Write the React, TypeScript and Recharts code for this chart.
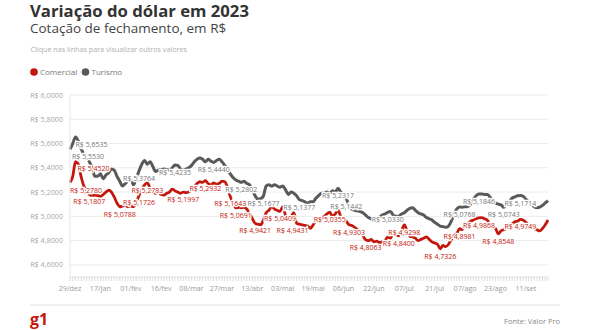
import React from "react";
import { LineChart, Line, XAxis, YAxis, CartesianGrid } from "recharts";

// rótulos do eixo x (um a cada 11 pregões)
const tickLabels = [
  "29/dez", "17/jan", "01/fev", "16/fev", "08/mar", "27/mar", "13/abr", "03/mai",
  "19/mai", "06/jun", "22/jun", "07/jul", "21/jul", "07/ago", "23/ago", "11/set",
];
const TICK_STEP = 11;

const yTicks = [4.6, 4.8, 5.0, 5.2, 5.4, 5.6, 5.8, 6.0];

// dólar comercial
const comercial = [
  5.278, 5.33, 5.452, 5.43, 5.33, 5.25, 5.22, 5.1807, 5.17, 5.175,
  5.17, 5.165, 5.18, 5.2, 5.215, 5.2, 5.16, 5.11, 5.0788, 5.085,
  5.09, 5.08, 5.085, 5.08, 5.12, 5.1726, 5.22, 5.26, 5.2783, 5.23,
  5.2, 5.19, 5.195, 5.18, 5.175, 5.19, 5.2, 5.225, 5.21, 5.2,
  5.19, 5.1997, 5.195, 5.2, 5.22, 5.245, 5.27, 5.285, 5.28, 5.2932,
  5.27, 5.26, 5.275, 5.265, 5.27, 5.29, 5.285, 5.24, 5.1643, 5.11,
  5.0691, 5.075, 5.07, 5.075, 5.06, 5.02, 4.98, 4.9421, 4.935, 4.93,
  4.97, 5.03, 5.05, 5.08, 5.06, 5.05, 5.0409, 5.08, 5.01, 4.99,
  5.0, 5.03, 4.9431, 4.935, 4.93, 4.925, 4.92, 4.9, 4.93, 4.96,
  4.97, 4.98, 5.0, 5.02, 5.0355, 5.0, 5.02, 5.05, 5.0, 4.98,
  4.96, 4.9303, 4.925, 4.91, 4.89, 4.87, 4.84, 4.8063, 4.8, 4.81,
  4.79, 4.795, 4.785, 4.79, 4.8, 4.83, 4.82, 4.86, 4.85, 4.84,
  4.88, 4.9298, 4.88, 4.835, 4.83, 4.82, 4.8, 4.81, 4.82, 4.83,
  4.81, 4.79, 4.78, 4.77, 4.7326, 4.76, 4.75, 4.77, 4.81, 4.84,
  4.86, 4.8981, 4.89, 4.92, 4.94, 4.96, 4.97, 4.98, 4.9868, 4.99,
  4.98, 4.97, 4.93, 4.91, 4.9, 4.8548, 4.88, 4.89, 4.9, 4.93,
  4.94, 4.955, 4.96, 4.9749, 4.97, 4.95, 4.93, 4.915, 4.9, 4.89,
  4.88, 4.9, 4.93, 4.97,
];

// dólar turismo
const turismo = [
  5.553, 5.6, 5.6535, 5.62, 5.56, 5.51, 5.48, 5.45, 5.4, 5.33,
  5.33, 5.35, 5.31, 5.34, 5.36, 5.39, 5.38, 5.33, 5.29, 5.25,
  5.27, 5.29, 5.3, 5.26, 5.31, 5.3764, 5.43, 5.46, 5.43, 5.45,
  5.41, 5.37, 5.38, 5.385, 5.39, 5.385, 5.38, 5.4, 5.4235, 5.42,
  5.39, 5.38, 5.39, 5.4, 5.42, 5.45, 5.47, 5.48, 5.47, 5.45,
  5.47, 5.455, 5.444, 5.46, 5.47, 5.45, 5.42, 5.39, 5.35, 5.32,
  5.3, 5.29, 5.2802, 5.29, 5.27, 5.26, 5.22, 5.17, 5.14, 5.145,
  5.1677, 5.25, 5.26, 5.25, 5.26, 5.25, 5.24, 5.25, 5.22, 5.18,
  5.2, 5.19, 5.17, 5.1377, 5.13, 5.12, 5.11, 5.12, 5.12, 5.15,
  5.17, 5.19, 5.19, 5.2, 5.19, 5.21, 5.2, 5.2317, 5.2, 5.17,
  5.1442, 5.09, 5.06, 5.05, 5.045, 5.04, 5.03, 5.01, 4.99, 4.98,
  4.97, 4.975, 4.99, 5.01, 5.02, 5.033, 5.04, 5.01, 5.0, 5.0,
  5.02, 5.03, 5.05, 5.065, 5.07, 5.05, 5.03, 5.02, 5.01, 4.99,
  4.98, 4.97, 4.95, 4.935, 4.92, 4.915, 4.91, 4.92, 4.96, 5.02,
  5.06, 5.0768, 5.075, 5.08, 5.08, 5.1, 5.14, 5.17, 5.1846, 5.185,
  5.18, 5.18, 5.16, 5.13, 5.11, 5.1, 5.095, 5.0743, 5.1, 5.12,
  5.15, 5.16, 5.17, 5.1714, 5.165, 5.14, 5.12, 5.1, 5.08, 5.07,
  5.075, 5.09, 5.11, 5.13,
];

// pontos com rótulo de valor
const comercialLabels = [0, 2, 7, 18, 25, 28, 41, 49, 58, 60, 67, 76, 82, 94, 101, 107, 119, 121, 134, 141, 148, 155, 163];
const turismoLabels = [0, 2, 25, 38, 52, 62, 70, 83, 97, 100, 115, 141, 148, 157, 163];

const RED = "#c4170c";
const GRAY = "#595959";
const FONT = '"Open Sans", sans-serif';

const data = comercial.map((v, i) => ({ i, comercial: v, turismo: turismo[i] }));
const allTicks = data.map((d) => d.i);

const brl = (v: number) => "R$ " + v.toFixed(4).replace(".", ",");

// deslocamentos horizontais dos rótulos que encostam na borda esquerda
const comercialShift: Record<number, number> = { 0: 16, 2: 18, 82: -4 };
const turismoShift: Record<number, number> = { 0: 18, 2: 16 };

const XTick = (props: any) => {
  const { x, y, payload } = props;
  const v = payload.value;
  if (v % TICK_STEP !== 0) return <g />;
  const label = tickLabels[v / TICK_STEP];
  if (!label) return <g />;
  return (
    <text x={x} y={y + 8} textAnchor="middle" fontSize={7.2} fill="#9a9a9a" fontFamily={FONT}>
      {label}
    </text>
  );
};

const makeLabelDot =
  (key: "comercial" | "turismo", idxs: number[], color: string, shifts: Record<number, number>) =>
  (props: any) => {
    const { cx, cy, index, payload } = props;
    if (!idxs.includes(index)) return <g key={`${key}-${index}`} />;
    return (
      <text
        key={`${key}-${index}`}
        x={cx + (shifts[index] || 0)}
        y={cy + 10}
        textAnchor="middle"
        fontSize={7}
        fill={color}
        stroke="#fff"
        strokeWidth={2.5}
        paintOrder="stroke"
        fontFamily={FONT}
      >
        {brl(payload[key])}
      </text>
    );
  };

const App: React.FC = () => {
  return (
    <div
      style={{
        position: "absolute",
        left: 0,
        top: 0,
        width: 590,
        height: 330,
        background: "#fff",
        fontFamily: FONT,
      }}
    >
      <svg width={590} height={330} style={{ position: "absolute", left: 0, top: 0 }}>
        <text x={30} y={16.7} fontSize={16.7} fontWeight={700} fill="#333" fontFamily={FONT}>
          Variação do dólar em 2023
        </text>
        <text x={30} y={33} fontSize={13.5} fill="#444" fontFamily={FONT}>
          Cotação de fechamento, em R$
        </text>
        <text x={30.5} y={51.5} fontSize={7.2} fill="#b0b0b0" fontFamily={FONT}>
          Clique nas linhas para visualizar outros valores
        </text>

        {/* legenda */}
        <circle cx={34} cy={72} r={3.8} fill={RED} />
        <text x={40} y={74.8} fontSize={8} fill="#777" fontFamily={FONT}>
          Comercial
        </text>
        <circle cx={85.5} cy={72} r={3.8} fill={GRAY} />
        <text x={91.5} y={74.8} fontSize={8} fill="#777" fontFamily={FONT}>
          Turismo
        </text>

        {/* rodapé */}
        <line x1={30} x2={560} y1={305} y2={305} stroke="#e0e0e0" />
        <text x={30} y={325} fontSize={16} fontWeight={700} fill={RED} fontFamily={FONT}>
          g1
        </text>
        <text x={560} y={324} textAnchor="end" fontSize={7.5} fill="#888" fontFamily={FONT}>
          Fonte: Valor Pro
        </text>
      </svg>

      <div style={{ position: "absolute", left: 0, top: 0 }}>
        <LineChart
          width={590}
          height={330}
          data={data}
          margin={{ top: 95, right: 42, bottom: 0, left: 0 }}
        >
          <CartesianGrid vertical={false} stroke="#ebebeb" />
          <XAxis
            type="number"
            dataKey="i"
            domain={[0, comercial.length - 1]}
            ticks={allTicks}
            interval={0}
            tick={<XTick />}
            tickSize={4}
            tickLine={{ stroke: "#dcdcdc" }}
            axisLine={{ stroke: "#ececec" }}
            height={53}
          />
          <YAxis
            domain={[4.5, 6.0]}
            ticks={yTicks}
            interval={0}
            width={70}
            tickFormatter={brl}
            tick={{ fontSize: 7.2, fill: "#a8a8a8", fontFamily: FONT }}
            tickLine={false}
            tickSize={0}
            tickMargin={7}
            axisLine={{ stroke: "#e6e6e6" }}
          />

          {/* Turismo */}
          <Line
            type="monotone"
            dataKey="turismo"
            stroke={GRAY}
            strokeWidth={3}
            dot={false}
            activeDot={false}
            isAnimationActive={false}
          />

          {/* Comercial */}
          <Line
            type="monotone"
            dataKey="comercial"
            stroke={RED}
            strokeWidth={2.8}
            dot={false}
            activeDot={false}
            isAnimationActive={false}
          />

          {/* rótulos por cima das duas linhas */}
          <Line
            dataKey="turismo"
            stroke="none"
            dot={makeLabelDot("turismo", turismoLabels, "#777", turismoShift)}
            activeDot={false}
            isAnimationActive={false}
          />
          <Line
            dataKey="comercial"
            stroke="none"
            dot={makeLabelDot("comercial", comercialLabels, RED, comercialShift)}
            activeDot={false}
            isAnimationActive={false}
          />
        </LineChart>
      </div>
    </div>
  );
};

export default App;
